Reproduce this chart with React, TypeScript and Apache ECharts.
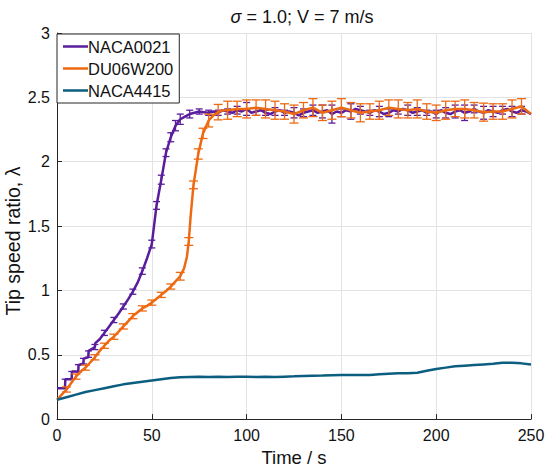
import React, { useEffect, useRef } from "react";
import * as echarts from "echarts";

const xTicks = { min: 0, max: 250, interval: 50 };
const yTicks = { min: 0, max: 3, interval: 0.5 };
const seriesNames = ["NACA0021", "DU06W200", "NACA4415"];

const naca0021: [number, number][] = [
  [0, 0.24], [4.2, 0.24], [4.4, 0.31], [7.7, 0.31], [7.9, 0.37], [11.2, 0.37], [11.4, 0.42], [13.9, 0.43],
  [14.1, 0.47], [16.5, 0.48], [16.7, 0.53], [20, 0.56], [20.2, 0.59], [22.5, 0.62], [25, 0.67], [27.5, 0.72],
  [30, 0.77], [32.5, 0.82], [35, 0.875], [37.5, 0.93], [40, 0.99], [42.5, 1.06], [45, 1.15], [47.5, 1.25],
  [50, 1.36], [51, 1.48], [52.5, 1.66], [55, 1.86], [57.5, 2.07], [60, 2.19], [62.5, 2.28], [65, 2.33],
  [67.5, 2.35], [70, 2.37], [72.5, 2.38], [75, 2.39], [77.5, 2.385], [80, 2.38],
  [82.5, 2.39], [85, 2.38], [87.5, 2.40], [90, 2.39], [92.5, 2.38], [95, 2.40], [97.5, 2.39], [100, 2.41],
  [102.5, 2.38], [105, 2.39], [107.5, 2.40], [110, 2.38], [112.5, 2.37], [115, 2.39], [117.5, 2.40], [120, 2.38],
  [122.5, 2.39], [125, 2.38], [127.5, 2.36], [130, 2.38], [132.5, 2.39], [135, 2.40], [137.5, 2.38], [140, 2.39],
  [142.5, 2.40], [145, 2.37], [147.5, 2.39], [150, 2.38], [152.5, 2.40], [155, 2.39], [157.5, 2.41], [160, 2.40],
  [162.5, 2.39], [165, 2.38], [167.5, 2.40], [170, 2.39], [172.5, 2.37], [175, 2.38], [177.5, 2.40], [180, 2.39],
  [182.5, 2.41], [185, 2.40], [187.5, 2.38], [190, 2.39], [192.5, 2.40], [195, 2.38], [197.5, 2.39], [200, 2.37],
  [202.5, 2.40], [205, 2.38], [207.5, 2.37], [210, 2.39], [212.5, 2.40], [215, 2.38], [217.5, 2.39], [220, 2.41],
  [222.5, 2.39], [225, 2.38], [227.5, 2.40], [230, 2.39], [232.5, 2.38], [235, 2.40], [237.5, 2.41], [240, 2.39],
  [242.5, 2.38], [245, 2.40], [247.5, 2.39], [250, 2.37],
];

// [time, centre, half-width]
const naca0021Err: [number, number, number][] = [
  [4.3, 0.275, 0.035], [7.8, 0.34, 0.03], [11.3, 0.395, 0.028], [14, 0.45, 0.022], [16.6, 0.505, 0.025],
  [20, 0.56, 0.02], [25, 0.67, 0.02], [30, 0.77, 0.02], [35, 0.875, 0.02], [40, 0.99, 0.02], [45, 1.15, 0.025],
  [50, 1.36, 0.03], [52.5, 1.66, 0.03], [55, 1.86, 0.035], [57.5, 2.07, 0.03], [60, 2.19, 0.035],
  [62.5, 2.28, 0.04], [65, 2.33, 0.04], [70, 2.37, 0.03], [75, 2.39, 0.02], [80, 2.38, 0.02], [85, 2.38, 0.02],
  [90, 2.39, 0.02], [95, 2.40, 0.03], [100, 2.41, 0.05], [105, 2.39, 0.03], [110, 2.38, 0.02], [115, 2.39, 0.03],
  [120, 2.38, 0.02], [125, 2.38, 0.04], [130, 2.38, 0.03], [135, 2.40, 0.04], [140, 2.39, 0.05], [145, 2.37, 0.07],
  [150, 2.38, 0.03], [155, 2.39, 0.06], [160, 2.40, 0.03], [165, 2.38, 0.02], [170, 2.39, 0.04], [175, 2.38, 0.03],
  [180, 2.39, 0.02], [185, 2.40, 0.04], [190, 2.39, 0.03], [195, 2.38, 0.02], [200, 2.37, 0.03], [205, 2.38, 0.04],
  [210, 2.39, 0.05], [215, 2.38, 0.06], [220, 2.41, 0.03], [225, 2.38, 0.05], [230, 2.39, 0.04], [235, 2.40, 0.03],
  [240, 2.39, 0.04], [245, 2.40, 0.03],
];

const du06w200: [number, number][] = [
  [0, 0.15], [2.5, 0.19], [5, 0.23], [7.5, 0.28], [10, 0.33], [12.5, 0.37], [15, 0.40], [17.5, 0.44],
  [20, 0.48], [22.5, 0.53], [25, 0.57], [27.5, 0.61], [30, 0.64], [32.5, 0.68], [35, 0.72], [37.5, 0.76],
  [40, 0.80], [42.5, 0.83], [45, 0.86], [47.5, 0.88], [50, 0.905], [52.5, 0.935], [55, 0.965], [57.5, 0.995],
  [60, 1.03], [62.5, 1.07], [65, 1.11], [67, 1.17], [68.5, 1.26], [69.5, 1.38], [70.5, 1.58], [72, 1.82],
  [74.5, 2.06], [77, 2.22], [80, 2.32], [82.5, 2.36], [85, 2.385], [87.5, 2.40],
  [90, 2.40], [95, 2.41], [100, 2.41], [105, 2.42], [110, 2.41], [115, 2.40], [120, 2.39], [125, 2.37],
  [130, 2.40], [135, 2.42], [140, 2.38], [145, 2.40], [150, 2.42], [155, 2.40], [160, 2.38], [165, 2.39],
  [170, 2.40], [175, 2.42], [180, 2.41], [185, 2.40], [190, 2.41], [195, 2.39], [200, 2.38], [205, 2.40],
  [210, 2.41], [215, 2.41], [220, 2.40], [225, 2.385], [230, 2.39], [235, 2.39], [240, 2.41], [245, 2.43],
  [250, 2.37],
];

const du06w200Err: [number, number, number][] = [
  [5, 0.23, 0.02], [10, 0.33, 0.02], [15, 0.40, 0.02], [20, 0.48, 0.02], [25, 0.57, 0.02], [30, 0.64, 0.02],
  [35, 0.72, 0.02], [40, 0.80, 0.02], [45, 0.86, 0.02], [50, 0.905, 0.02], [55, 0.965, 0.02], [60, 1.03, 0.02],
  [65, 1.11, 0.03], [69.5, 1.38, 0.03], [72, 1.82, 0.03], [74.5, 2.06, 0.04], [77, 2.22, 0.04], [80, 2.32, 0.05],
  [85, 2.385, 0.06], [90, 2.40, 0.07], [95, 2.41, 0.06], [100, 2.41, 0.07], [105, 2.42, 0.06], [110, 2.41, 0.07],
  [115, 2.40, 0.07], [120, 2.39, 0.06], [125, 2.37, 0.07], [130, 2.40, 0.06], [135, 2.42, 0.07], [140, 2.38, 0.06],
  [145, 2.40, 0.07], [150, 2.42, 0.07], [155, 2.40, 0.06], [160, 2.38, 0.07], [165, 2.39, 0.06], [170, 2.40, 0.07],
  [175, 2.42, 0.06], [180, 2.41, 0.07], [185, 2.40, 0.06], [190, 2.41, 0.07], [195, 2.39, 0.06], [200, 2.38, 0.06],
  [205, 2.40, 0.07], [210, 2.41, 0.06], [215, 2.41, 0.07], [220, 2.40, 0.06], [225, 2.385, 0.07], [230, 2.39, 0.06],
  [235, 2.39, 0.06], [240, 2.41, 0.07], [245, 2.43, 0.06],
];

const naca4415: [number, number][] = [
  [0, 0.15], [5, 0.17], [10, 0.19], [15, 0.21], [20, 0.225], [25, 0.24], [30, 0.255], [35, 0.27], [40, 0.28],
  [45, 0.29], [50, 0.30], [55, 0.31], [60, 0.32], [65, 0.325], [70, 0.328], [75, 0.33], [80, 0.328], [85, 0.33],
  [90, 0.328], [95, 0.33], [100, 0.33], [105, 0.328], [110, 0.33], [115, 0.328], [120, 0.33], [125, 0.332],
  [130, 0.335], [135, 0.337], [140, 0.338], [145, 0.34], [150, 0.342], [155, 0.342], [160, 0.343], [165, 0.343],
  [170, 0.348], [175, 0.353], [180, 0.356], [185, 0.357], [190, 0.36], [195, 0.375], [200, 0.39], [205, 0.40],
  [210, 0.41], [215, 0.415], [220, 0.42], [225, 0.425], [230, 0.43], [235, 0.438], [240, 0.437], [245, 0.433],
  [250, 0.425],
];

const colors = ["#5A1D9C", "#EE6A12", "#0B5E80"];
const FONT = "'Liberation Sans', Arial, Helvetica, sans-serif";

function errRender(color: string, cap: number) {
  return (params: any, api: any) => {
    const t = api.value(0);
    const c = api.value(1);
    const h = api.value(2);
    const top = api.coord([t, c + h]);
    const bot = api.coord([t, c - h]);
    const style = { stroke: color, lineWidth: 1.3 };
    return {
      type: "group",
      children: [
        { type: "line", shape: { x1: top[0], y1: top[1], x2: bot[0], y2: bot[1] }, style },
        { type: "line", shape: { x1: top[0] - cap, y1: top[1], x2: top[0] + cap, y2: top[1] }, style },
        { type: "line", shape: { x1: bot[0] - cap, y1: bot[1], x2: bot[0] + cap, y2: bot[1] }, style },
      ],
    };
  };
}

export default function App() {
  const ref = useRef<HTMLDivElement>(null);
  useEffect(() => {
    document.body.style.margin = "0";
    const chart = echarts.init(ref.current!, undefined, { renderer: "svg" });
    const axisColor = "#262626";
    chart.setOption({
      animation: false,
      backgroundColor: "#ffffff",
      textStyle: { fontFamily: FONT },
      title: {
        text: "{i|σ} = 1.0; V = 7 m/s",
        left: 297,
        top: 3,
        textAlign: "center",
        textStyle: {
          fontFamily: FONT,
          fontSize: 18,
          fontWeight: "normal",
          color: "#111",
          rich: { i: { fontFamily: FONT, fontStyle: "italic", fontSize: 18, color: "#111" } },
        },
      },
      grid: { left: 57, right: 19, top: 33, bottom: 50, containLabel: false },
      legend: {
        data: seriesNames,
        left: 57,
        top: 34,
        orient: "vertical",
        icon: "rect",
        itemWidth: 25,
        itemHeight: 2.5,
        itemGap: 5,
        padding: [4, 6, 4, 6],
        backgroundColor: "#ffffff",
        borderColor: axisColor,
        borderWidth: 1,
        borderRadius: 0,
        textStyle: { fontFamily: FONT, fontSize: 16.5, color: "#111", padding: [0, 0, 0, -5] },
      },
      xAxis: {
        type: "value",
        min: xTicks.min,
        max: xTicks.max,
        interval: xTicks.interval,
        name: "Time / s",
        nameLocation: "middle",
        nameGap: 27,
        nameTextStyle: { fontFamily: FONT, fontSize: 18.5, color: "#111" },
        axisLine: { show: true, lineStyle: { color: axisColor, width: 1 } },
        axisTick: { show: true, inside: true, length: 5, lineStyle: { color: axisColor } },
        axisLabel: { margin: 8, fontFamily: FONT, fontSize: 16, color: "#111" },
        splitLine: { show: true, lineStyle: { color: "#e3e3e3", width: 1 } },
      },
      yAxis: {
        type: "value",
        min: yTicks.min,
        max: yTicks.max,
        interval: yTicks.interval,
        axisLine: { show: true, lineStyle: { color: axisColor, width: 1 } },
        axisTick: { show: true, inside: true, length: 5, lineStyle: { color: axisColor } },
        axisLabel: { margin: 7, fontFamily: FONT, fontSize: 16, color: "#111" },
        splitLine: { show: true, lineStyle: { color: "#e3e3e3", width: 1 } },
      },
      graphic: [
        {
          type: "text",
          x: 13,
          y: 241,
          rotation: Math.PI / 2,
          style: {
            text: "Tip speed ratio, λ",
            fontFamily: FONT,
            fontSize: 19.5,
            fill: "#111",
            textAlign: "center",
            textVerticalAlign: "middle",
          },
        },
      ],
      series: [
        {
          name: seriesNames[0],
          type: "line",
          data: naca0021,
          showSymbol: false,
          lineStyle: { color: colors[0], width: 2.5 },
          itemStyle: { color: colors[0] },
          z: 2,
        },
        {
          type: "custom",
          data: naca0021Err,
          renderItem: errRender(colors[0], 3.5),
          encode: { x: 0, y: 1 },
          z: 3,
        },
        {
          name: seriesNames[1],
          type: "line",
          data: du06w200,
          showSymbol: false,
          lineStyle: { color: colors[1], width: 2.5 },
          itemStyle: { color: colors[1] },
          z: 4,
        },
        {
          type: "custom",
          data: du06w200Err,
          renderItem: errRender(colors[1], 4.5),
          encode: { x: 0, y: 1 },
          z: 5,
        },
        {
          name: seriesNames[2],
          type: "line",
          data: naca4415,
          showSymbol: false,
          lineStyle: { color: colors[2], width: 2.5 },
          itemStyle: { color: colors[2] },
          z: 6,
        },
      ],
    });
    return () => chart.dispose();
  }, []);
  return <div ref={ref} style={{ width: 550, height: 472 }} />;
}
